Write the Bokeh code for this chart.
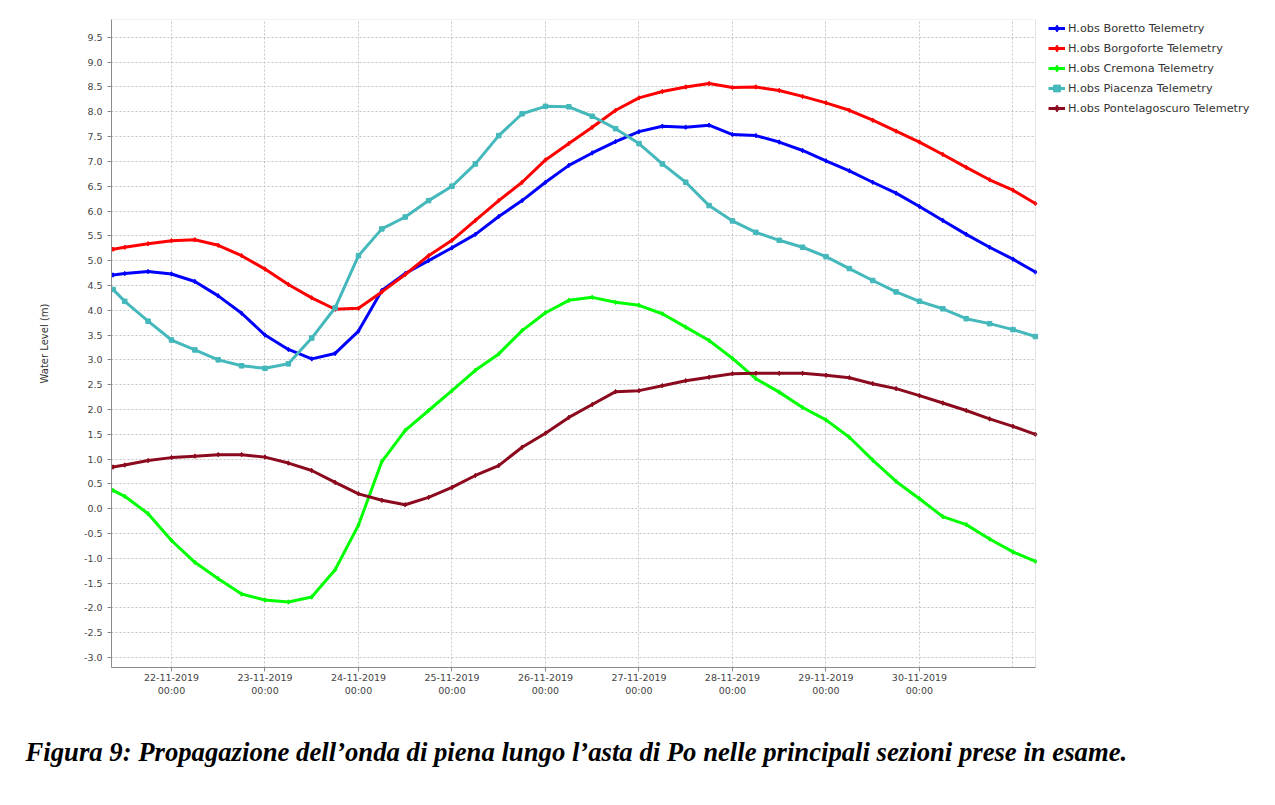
import pandas as pd
from bokeh.plotting import figure
from bokeh.models import (FixedTicker, CustomJSTickFormatter, NumeralTickFormatter,
                          Legend, LegendItem, Range1d, Title, BoxAnnotation)
from bokeh.embed import file_html
from bokeh.resources import INLINE

# ---------------- data ----------------
times = (["2019-11-21 09:00"]
         + [t.strftime("%Y-%m-%d %H:%M") for t in pd.date_range("2019-11-21 12:00", "2019-12-01 00:00", freq="6h")]
         + ["2019-12-01 05:45"])

boretto = [4.71, 4.74, 4.78, 4.73, 4.58, 4.29, 3.94, 3.50, 3.21, 3.02, 3.13, 3.58,
           4.40, 4.74, 5.00, 5.26, 5.53, 5.89, 6.21, 6.58, 6.92, 7.17, 7.40, 7.60,
           7.71, 7.69, 7.73, 7.54, 7.52, 7.39, 7.22, 7.01, 6.81, 6.58, 6.36, 6.09,
           5.81, 5.53, 5.27, 5.03, 4.77]
borgoforte = [5.23, 5.27, 5.34, 5.40, 5.42, 5.31, 5.10, 4.83, 4.52, 4.25, 4.02, 4.04,
              4.37, 4.72, 5.10, 5.41, 5.81, 6.21, 6.58, 7.03, 7.36, 7.69, 8.03, 8.28,
              8.41, 8.50, 8.57, 8.49, 8.50, 8.43, 8.31, 8.18, 8.03, 7.83, 7.61, 7.39,
              7.14, 6.88, 6.63, 6.42, 6.15]
cremona = [0.37, 0.25, -0.10, -0.64, -1.08, -1.41, -1.72, -1.84, -1.88, -1.78, -1.23, -0.33,
           0.95, 1.58, 1.98, 2.38, 2.79, 3.12, 3.59, 3.95, 4.20, 4.26, 4.16, 4.10,
           3.93, 3.66, 3.39, 3.03, 2.62, 2.35, 2.04, 1.79, 1.44, 0.98, 0.55, 0.20,
           -0.16, -0.32, -0.61, -0.87, -1.06]
piacenza = [4.42, 4.18, 3.78, 3.40, 3.20, 3.00, 2.88, 2.83, 2.92, 3.44, 4.05, 5.10,
            5.64, 5.88, 6.21, 6.50, 6.95, 7.52, 7.96, 8.11, 8.10, 7.91, 7.66, 7.36,
            6.95, 6.58, 6.11, 5.80, 5.57, 5.41, 5.27, 5.08, 4.84, 4.60, 4.37, 4.18,
            4.03, 3.83, 3.73, 3.61, 3.47]
pontelagoscuro = [0.84, 0.88, 0.97, 1.03, 1.06, 1.09, 1.09, 1.04, 0.92, 0.77, 0.53, 0.30,
                  0.17, 0.08, 0.23, 0.43, 0.67, 0.87, 1.24, 1.52, 1.84, 2.10, 2.36, 2.38,
                  2.48, 2.58, 2.65, 2.72, 2.73, 2.73, 2.73, 2.69, 2.64, 2.52, 2.42, 2.28,
                  2.13, 1.98, 1.81, 1.66, 1.50]

series_names = ["H.obs Boretto Telemetry", "H.obs Borgoforte Telemetry", "H.obs Cremona Telemetry",
                "H.obs Piacenza Telemetry", "H.obs Pontelagoscuro Telemetry"]
series_values = [boretto, borgoforte, cremona, piacenza, pontelagoscuro]
series_colors = ["#0000FF", "#FF0000", "#00FF00", "#44B8BA", "#8C0A1E"]
series_markers = ["diamond", "diamond", "diamond", "square", "diamond"]

y_ticks = [-3.0, -2.5, -2.0, -1.5, -1.0, -0.5, 0.0, 0.5, 1.0, 1.5, 2.0, 2.5, 3.0,
           3.5, 4.0, 4.5, 5.0, 5.5, 6.0, 6.5, 7.0, 7.5, 8.0, 8.5, 9.0, 9.5]
x_label_days = ["2019-11-22", "2019-11-23", "2019-11-24", "2019-11-25", "2019-11-26",
                "2019-11-27", "2019-11-28", "2019-11-29", "2019-11-30"]
x_grid_days = x_label_days + ["2019-12-01"]

y_label = "Water Level (m)"
caption = "Figura 9: Propagazione dell\u2019onda di piena lungo l\u2019asta di Po nelle principali sezioni prese in esame."

# ---------------- layout geometry ----------------
W, H = 1262, 803
FRAME_L, DATA_R = 111, 1035          # pixel extent of the visible chart box
t0 = pd.Timestamp("2019-11-21 08:36")
t1 = pd.Timestamp("2019-12-01 05:47")
# frame extends to the right edge so the legend can live inside it
t_end = t0 + (t1 - t0) * ((W - FRAME_L) / (DATA_R - FRAME_L))

x = pd.to_datetime(times)
to_ms = lambda d: pd.Timestamp(d).value // 10**6

p = figure(width=W, height=H, x_axis_type="datetime", output_backend="svg",
           toolbar_location=None,
           x_range=Range1d(t0, t_end),
           y_range=Range1d(-3.2, 9.86),
           min_border_left=FRAME_L, min_border_right=0, min_border_top=19,
           min_border_bottom=0)
p.background_fill_color = "white"
p.border_fill_color = "white"
p.outline_line_color = None

items = []
for name, vals, col, mk in zip(series_names, series_values, series_colors, series_markers):
    lr = p.line(x, vals, line_color=col, line_width=3)
    sr = p.scatter(x, vals, marker=mk, size=4.5, fill_color=col, line_color=col)
    items.append(LegendItem(label=name, renderers=[lr, sr]))

# axes
p.yaxis.ticker = FixedTicker(ticks=y_ticks)
p.yaxis.formatter = NumeralTickFormatter(format="0.0")
p.xaxis.ticker = FixedTicker(ticks=[to_ms(d) for d in x_label_days])
p.xaxis.bounds = (to_ms(t0), to_ms(t1))
p.xaxis.formatter = CustomJSTickFormatter(code="""
const d = new Date(tick);
const q = (n) => String(n).padStart(2, '0');
return q(d.getUTCDate()) + '-' + q(d.getUTCMonth() + 1) + '-' + d.getUTCFullYear() + '\\n' + q(d.getUTCHours()) + ':' + q(d.getUTCMinutes());
""")
for ax in (p.xaxis[0], p.yaxis[0]):
    ax.axis_line_color = "#888888"
    ax.major_tick_line_color = "#888888"
    ax.major_tick_out = 4
    ax.major_tick_in = 0
    ax.minor_tick_line_color = None
    ax.major_label_text_font = "DejaVu Sans"
    ax.major_label_text_font_size = "9.5px"
    ax.major_label_text_color = "#444444"
p.yaxis.major_label_standoff = 5
p.xaxis.major_label_standoff = 0
p.yaxis.axis_label = y_label
p.yaxis.axis_label_text_font = "DejaVu Sans"
p.yaxis.axis_label_text_font_size = "10px"
p.yaxis.axis_label_text_font_style = "normal"
p.yaxis.axis_label_text_color = "#333333"
p.yaxis.axis_label_standoff = 31

# grids
p.xgrid.ticker = FixedTicker(ticks=[to_ms(d) for d in x_grid_days])
p.ygrid.ticker = FixedTicker(ticks=y_ticks)
for g in (p.xgrid[0], p.ygrid[0]):
    g.grid_line_color = "#c4c4c4"
    g.grid_line_dash = "2 2"
    g.grid_line_width = 1

# blank the area right of the chart box, and draw the chart box outline
p.add_layout(BoxAnnotation(left=to_ms(t1), fill_color="white", fill_alpha=1.0,
                           line_color=None, level="underlay"))
p.add_layout(BoxAnnotation(right=to_ms(t1), fill_alpha=0, line_color="#a0a0a0",
                           line_width=1))

legend = Legend(items=items, location=(937, 549), border_line_color=None,
                background_fill_alpha=0, padding=0, margin=0, spacing=0,
                label_height=20, glyph_height=20, glyph_width=17, label_standoff=3,
                label_text_font="DejaVu Sans", label_text_font_size="11.3px",
                label_text_color="#333333")
p.add_layout(legend)

cap = Title(text=caption, align="left", offset=-86, standoff=73,
            text_font="Liberation Serif", text_font_style="bold italic",
            text_font_size="26.7px", text_color="black")
p.add_layout(cap, "below")

open("out.html", "w").write(file_html(p, INLINE))
